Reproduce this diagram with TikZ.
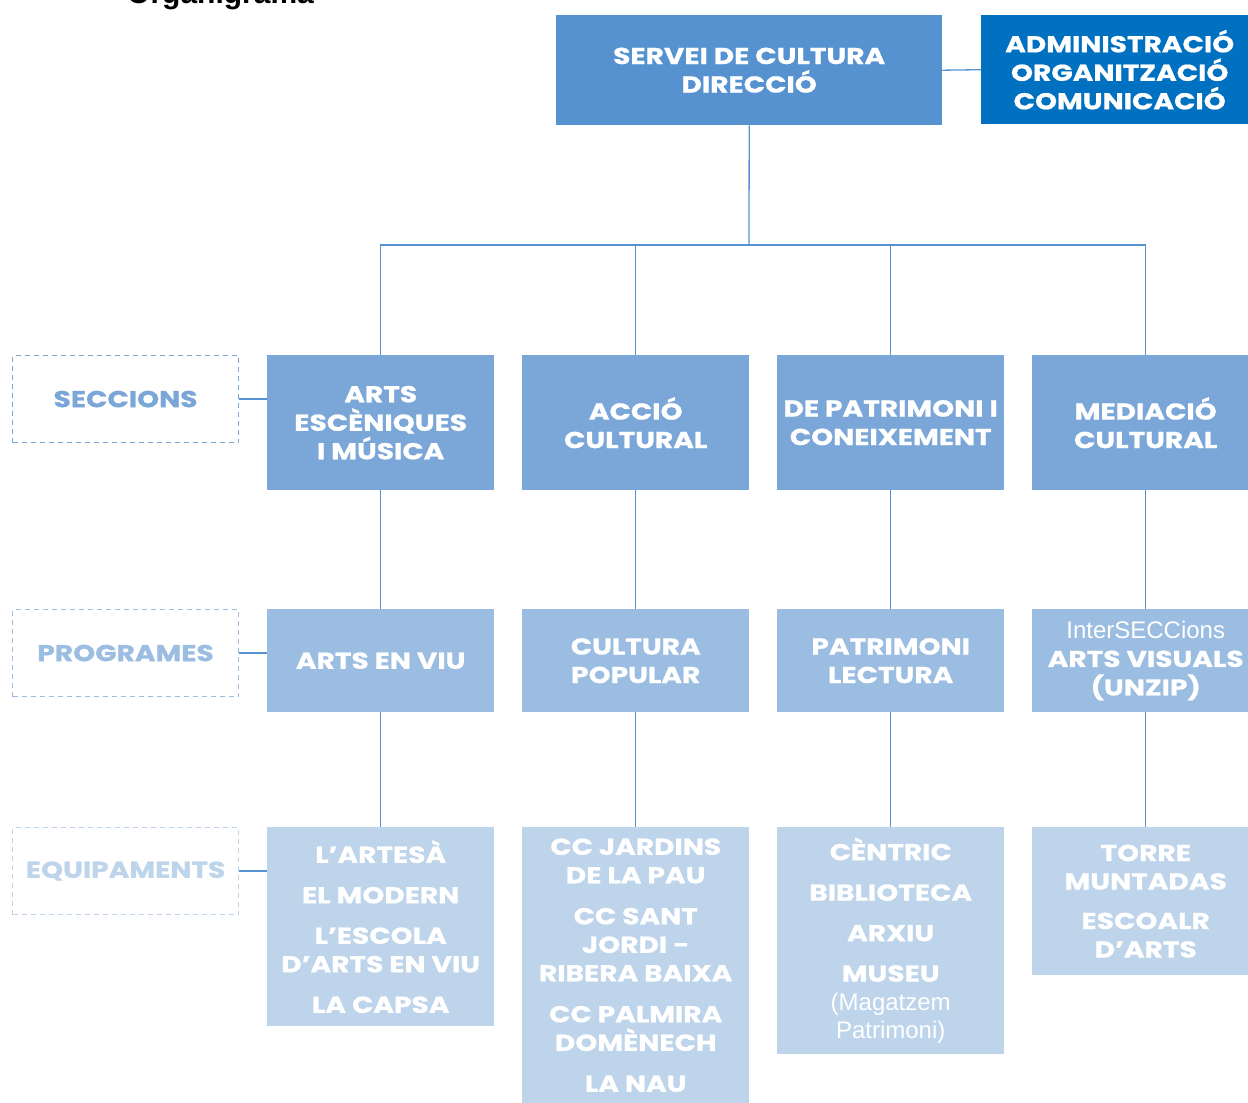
\documentclass[tikz,border=0pt]{standalone}
\usepackage{fontspec}
\setmainfont{Poppins}[FakeStretch=1.22, BoldFeatures={FakeBold=0.8}]
\newfontfamily\regfont{Liberation Sans}
\definecolor{cdir}{RGB}{86,146,208}
\definecolor{cadm}{RGB}{0,112,192}
\definecolor{csec}{RGB}{122,167,216}
\definecolor{cprog}{RGB}{155,189,226}
\definecolor{ceq}{RGB}{189,212,235}
\definecolor{cline}{RGB}{86,146,208}
\begin{document}
\begin{tikzpicture}[x=1pt,y=-1pt,
  box/.style={draw=none, inner sep=0pt, anchor=north west, align=center, text=white,
    font=\bfseries\fontsize{23}{28.5}\selectfont},
  lab/.style={draw=#1, dash pattern=on 5pt off 4pt, line width=1.1pt, inner sep=0pt,
    anchor=north west, text=#1, minimum width=226pt, minimum height=87pt,
    font=\bfseries\fontsize{23}{28}\selectfont},
  conn/.style={draw=cline, line width=1.3pt}]
\useasboundingbox (0,0) rectangle (1248,1103);
\fill[white] (0,0) rectangle (1248,1103);

\node[anchor=base west, inner sep=0pt, font=\regfont\bfseries\fontsize{30}{36}\selectfont] (title) at (127,3) {Organigrama};

\node[box, fill=cdir, minimum width=386pt, minimum height=110pt] (dir) at (556,15) {SERVEI DE CULTURA\\DIRECCIÓ};
\node[box, fill=cadm, minimum width=277pt, minimum height=109pt] (adm) at (981,15) {ADMINISTRACIÓ\\ORGANITZACIÓ\\COMUNICACIÓ};

\node[lab=csec] (l1) at (12,355) {SECCIONS};
\node[lab=cprog] (l2) at (12,609) {PROGRAMES};
\node[lab=ceq] (l3) at (12,827) {EQUIPAMENTS};

\node[box, fill=csec, minimum width=227pt, minimum height=135pt] (s1) at (267,355) {ARTS\\ESCÈNIQUES\\I MÚSICA};
\node[box, fill=csec, minimum width=227pt, minimum height=135pt] (s2) at (522,355) {ACCIÓ\\CULTURAL};
\node[box, fill=csec, minimum width=227pt, minimum height=135pt] (s3) at (777,355) {DE PATRIMONI I\\CONEIXEMENT};
\node[box, fill=csec, minimum width=227pt, minimum height=135pt] (s4) at (1032,355) {MEDIACIÓ\\CULTURAL};

\node[box, fill=cprog, minimum width=227pt, minimum height=103pt] (p1) at (267,609) {ARTS EN VIU};
\node[box, fill=cprog, minimum width=227pt, minimum height=103pt] (p2) at (522,609) {CULTURA\\POPULAR};
\node[box, fill=cprog, minimum width=227pt, minimum height=103pt] (p3) at (777,609) {PATRIMONI\\LECTURA};
\node[box, fill=cprog, minimum width=227pt, minimum height=103pt] (p4) at (1032,609) {{\regfont\mdseries\fontsize{24}{28}\selectfont InterSECCions}\\ARTS VISUALS\\(UNZIP)};

\node[box, fill=ceq, minimum width=227pt, minimum height=199pt] (e1) at (267,827) {L’ARTESÀ\\[12pt]EL MODERN\\[12pt]L’ESCOLA\\D’ARTS EN VIU\\[12pt]LA CAPSA};
\node[box, fill=ceq, minimum width=227pt, minimum height=276pt] (e2) at (522,827) {CC JARDINS\\DE LA PAU\\[12.5pt]CC SANT\\JORDI -\\RIBERA BAIXA\\[12.5pt]CC PALMIRA\\DOMÈNECH\\[12.5pt]LA NAU};
\node[box, fill=ceq, minimum width=227pt, minimum height=227pt] (e3) at (777,827) {CÈNTRIC\\[12pt]BIBLIOTECA\\[12pt]ARXIU\\[12pt]MUSEU\\{\regfont\mdseries\fontsize{24}{28}\selectfont (Magatzem}\\{\regfont\mdseries\fontsize{24}{28}\selectfont Patrimoni)}};
\node[box, fill=ceq, minimum width=227pt, minimum height=148pt] (e4) at (1032,827) {TORRE\\MUNTADAS\\[11pt]ESCOALR\\D’ARTS};

\coordinate (bus) at (749,245);
\draw[conn] (dir.east) -- (adm.west);
\draw[conn] (dir.south) -- (bus);
\draw[conn] (s1.north) -- (s1.north |- bus) -- (s4.north |- bus) -- (s4.north);
\draw[conn] (s2.north) -- (s2.north |- bus);
\draw[conn] (s3.north) -- (s3.north |- bus);
\foreach \i in {1,2,3,4} {
  \draw[conn] (s\i.south) -- (p\i.north);
  \draw[conn] (p\i.south) -- (e\i.north);
}
\draw[conn] (l1.east) -- (l1.east -| s1.west);
\draw[conn] (l2.east) -- (l2.east -| p1.west);
\draw[conn] (l3.east) -- (l3.east -| e1.west);
\end{tikzpicture}
\end{document}
